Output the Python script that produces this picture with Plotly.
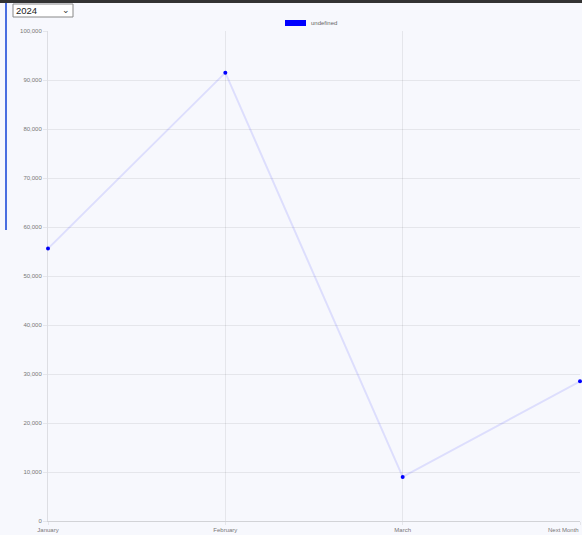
import plotly.graph_objects as go

months = ["January", "February", "March", "Next Month"]
values = [55600, 91500, 9000, 28500]
y_ticks = [0, 10000, 20000, 30000, 40000, 50000, 60000, 70000, 80000, 90000, 100000]
series_name = "undefined"
year_label = "2024"

W, H = 582, 535
ML, MR, MT, MB = 48, 2, 31, 14
PW, PH = W - ML - MR, H - MT - MB
BG = "rgb(247,248,253)"
GRID = "rgba(0,0,0,0.07)"

fig = go.Figure()
fig.add_trace(go.Scatter(
    x=list(range(len(months))), y=values, mode="lines+markers",
    name=series_name, showlegend=False,
    line=dict(color="rgba(0,0,255,0.1)", width=2),
    marker=dict(color="blue", size=4),
    cliponaxis=False,
))

# last label is placed as an annotation, right-aligned so it stays inside the page
tick_text = months[:-1] + [""]

fig.update_layout(
    width=W, height=H,
    margin=dict(l=ML, r=MR, t=MT, b=MB),
    paper_bgcolor=BG, plot_bgcolor=BG,
    font=dict(family="Liberation Sans, Arial", size=6, color="#777"),
    xaxis=dict(
        range=[0, len(months) - 1], tickmode="array",
        tickvals=list(range(len(months))), ticktext=tick_text,
        automargin=False,
        showgrid=True, gridcolor=GRID, gridwidth=1,
        ticks="outside", ticklen=3, tickcolor=GRID,
        showline=True, linecolor="rgba(0,0,0,0.15)", linewidth=1,
        zeroline=False, fixedrange=True,
    ),
    yaxis=dict(
        range=[0, 100000], tickmode="array", tickvals=y_ticks,
        tickformat=",d", automargin=False,
        showgrid=True, gridcolor=GRID, gridwidth=1,
        ticks="outside", ticklen=4, tickcolor=GRID,
        showline=True, linecolor="rgba(0,0,0,0.1)", linewidth=1,
        zeroline=False, fixedrange=True,
    ),
    showlegend=False,
)

def px_x(p):
    return (p - ML) / PW

def px_y(p):
    return (H - MB - p) / PH

shapes = [
    # top dark bar
    dict(type="rect", xref="paper", yref="paper", x0=px_x(-5), x1=px_x(W + 5),
         y0=px_y(3), y1=px_y(-5), fillcolor="#333", line=dict(width=0), layer="above"),
    # left blue line
    dict(type="line", xref="paper", yref="paper", x0=px_x(6), x1=px_x(6),
         y0=px_y(3), y1=px_y(230), line=dict(color="#4a6ee0", width=2)),
    # legend box
    dict(type="rect", xref="paper", yref="paper", x0=px_x(285), x1=px_x(306),
         y0=px_y(26), y1=px_y(20), fillcolor="blue", line=dict(width=0)),
    # dropdown box
    dict(type="rect", xref="paper", yref="paper", x0=px_x(13), x1=px_x(73),
         y0=px_y(17), y1=px_y(4), fillcolor="white",
         line=dict(color="#888", width=1)),
]
fig.update_layout(shapes=shapes)

fig.add_annotation(xref="paper", yref="paper", x=px_x(581), y=px_y(529.5),
                   text=months[-1], showarrow=False, xanchor="right", yanchor="middle",
                   font=dict(size=6, color="#777"))
fig.add_annotation(xref="paper", yref="paper", x=px_x(309), y=px_y(23),
                   text=series_name, showarrow=False, xanchor="left", yanchor="middle",
                   font=dict(size=6, color="#666"))
fig.add_annotation(xref="paper", yref="paper", x=px_x(14), y=px_y(10.5),
                   text=year_label, showarrow=False, xanchor="left", yanchor="middle",
                   font=dict(size=9.5, color="#222"))
fig.add_annotation(xref="paper", yref="paper", x=px_x(66), y=px_y(10),
                   text="⌄", showarrow=False, xanchor="center", yanchor="middle",
                   font=dict(size=9, color="#333"))

fig.write_html("out.html")
